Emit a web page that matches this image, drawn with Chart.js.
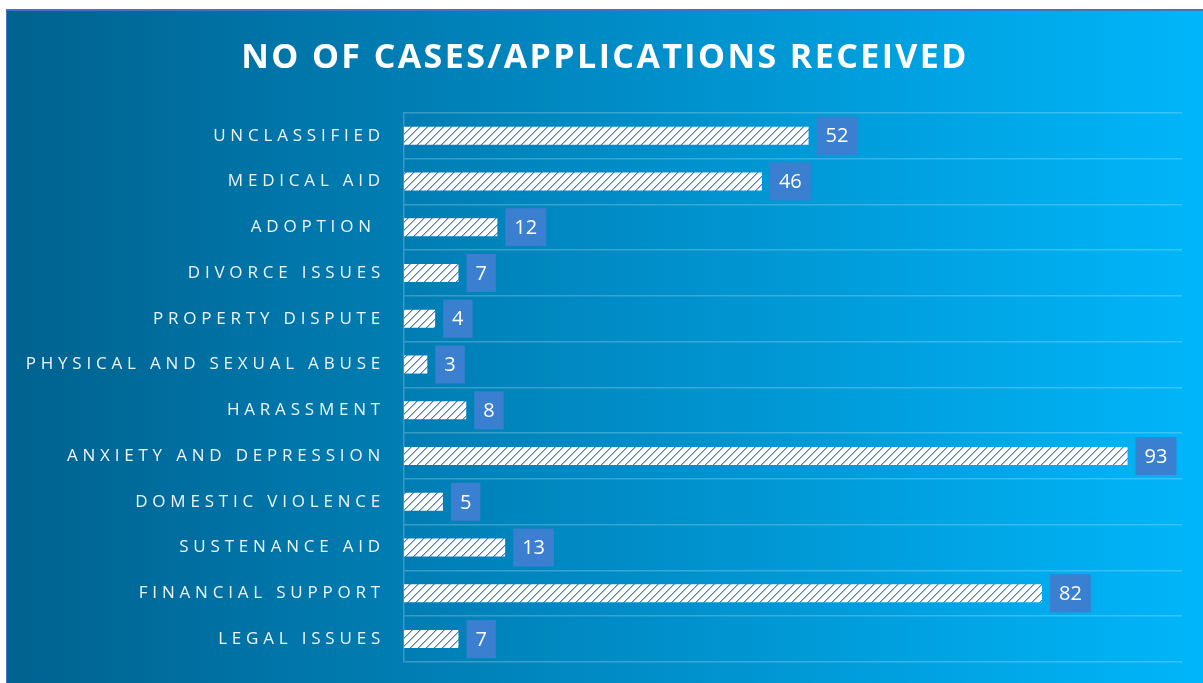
<!DOCTYPE html>
<html>
<head>
<meta charset="utf-8">
<script src="https://cdn.jsdelivr.net/npm/chart.js@4.4.1/dist/chart.umd.min.js"></script>
<style>
  html, body { margin: 0; padding: 0; background: #fff; }
  #frame { position: absolute; left: 6px; top: 9px; width: 1197px; height: 674px; background: #4472c4; }
  #box { position: absolute; left: 7px; top: 11px; width: 1196px; height: 672px;
         background: linear-gradient(to right, #00628f 0%, #0087c0 45%, #00b6fa 100%); }
</style>
</head>
<body>
<div id="frame"></div>
<div id="box"><canvas id="chart_cases"></canvas></div>
<script>
const categories = ["UNCLASSIFIED", "MEDICAL AID", "ADOPTION ", "DIVORCE ISSUES", "PROPERTY DISPUTE",
  "PHYSICAL AND SEXUAL ABUSE", "HARASSMENT", "ANXIETY AND DEPRESSION", "DOMESTIC VIOLENCE",
  "SUSTENANCE AID", "FINANCIAL SUPPORT", "LEGAL ISSUES"]
const cases = [52, 46, 12, 7, 4, 3, 8, 93, 5, 13, 82, 7]
const titleText = "NO OF CASES/APPLICATIONS RECEIVED"

// hatched fill like the excel "wide upward diagonal" pattern
function makeHatch() {
  const c = document.createElement('canvas')
  c.width = 8
  c.height = 8
  const p = c.getContext('2d')
  p.fillStyle = '#ffffff'
  p.fillRect(0, 0, 8, 8)
  for (let i = 0; i < 8; i++) {
    p.fillStyle = '#4a78cc'
    p.fillRect(i, 7 - i, 1, 1)
    p.fillStyle = 'rgba(68,114,196,0.45)'
    p.fillRect(i, (8 - i) % 8, 1, 1)
  }
  return p.createPattern(c, 'repeat')
}

const spacingPlugin = {
  id: 'spacing',
  beforeLayout(chart) { chart.ctx.letterSpacing = '4.8px' },
  beforeDraw(chart) { chart.ctx.letterSpacing = '2.4px' },
  afterDatasetsDraw(chart) {
    const ctx = chart.ctx
    const meta = chart.getDatasetMeta(0)
    ctx.save()
    ctx.letterSpacing = '0px'
    ctx.font = '20px "Open Sans"'
    ctx.textAlign = 'center'
    ctx.textBaseline = 'middle'
    meta.data.forEach((bar, i) => {
      const txt = String(cases[i])
      const w = ctx.measureText(txt).width + 18
      const h = 38
      const x0 = bar.x + 8
      ctx.fillStyle = '#3a7fd0'
      ctx.fillRect(x0, bar.y - h / 2, w, h)
      ctx.fillStyle = '#ffffff'
      ctx.fillText(txt, x0 + w / 2, bar.y + 1)
    })
    ctx.restore()
    // tick labels (z: 1) are drawn after this, with wide spacing
    ctx.letterSpacing = '4.8px'
  }
}

const canvas = document.getElementById('chart_cases')
canvas.width = 1196
canvas.height = 672

new Chart(canvas.getContext('2d'), {
  type: 'bar',
  data: {
    labels: categories,
    datasets: [{
      data: cases,
      backgroundColor: makeHatch(),
      borderWidth: 0,
      categoryPercentage: 1,
      barPercentage: 0.393
    }]
  },
  options: {
    indexAxis: 'y',
    responsive: false,
    animation: false,
    layout: { padding: { left: 0, right: 0, top: 0, bottom: 21 } },
    plugins: {
      legend: { display: false },
      tooltip: { enabled: false },
      title: {
        display: true,
        text: titleText,
        color: '#ffffff',
        font: { family: '"Open Sans"', size: 34, weight: 'bold', lineHeight: 1.2 },
        padding: { top: 27, bottom: 34 }
      }
    },
    scales: {
      x: { display: false, min: 0, max: 100 },
      y: {
        afterFit(scale) {
          scale.width = 397
          scale.paddingTop = 0
          scale.paddingBottom = 0
        },
        grid: { color: 'rgba(255,255,255,0.22)', lineWidth: 1.5, drawTicks: false, offset: true },
        border: { display: true, color: 'rgba(255,255,255,0.22)', width: 1.5 },
        ticks: {
          z: 1,
          padding: 19,
          color: '#eef4fa',
          font: { family: '"Open Sans"', size: 17 }
        }
      },
      // empty right-hand spacer so the plot stops short of the edge
      y2: {
        position: 'right',
        offset: true,
        afterFit(scale) {
          scale.width = 21
          scale.paddingTop = 0
          scale.paddingBottom = 0
        },
        grid: { display: false, offset: true },
        border: { display: false },
        ticks: { display: false }
      }
    }
  },
  plugins: [spacingPlugin]
})
</script>
</body>
</html>
